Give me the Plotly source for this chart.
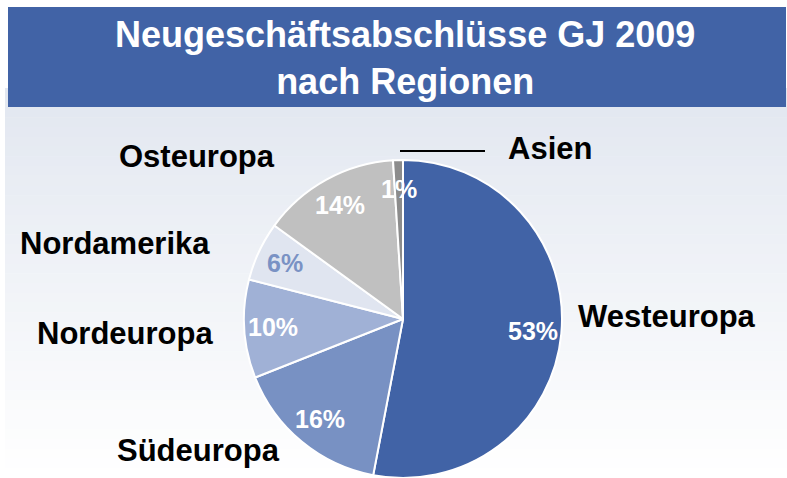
import math
import plotly.graph_objects as go

# ---- data ----
regions = ["Westeuropa", "Südeuropa", "Nordeuropa", "Nordamerika", "Osteuropa", "Asien"]
shares = [53, 16, 10, 6, 14, 1]
slice_colors = ["#4163A6", "#7891C3", "#A0B1D6", "#E0E5F0", "#C0C0C0", "#8C8C8C"]
pct_colors = ["white", "white", "white", "#7A92C4", "white", "white"]
title_lines = ["Neugeschäftsabschlüsse GJ 2009", "nach Regionen"]

W, H = 787, 478
CX, CY, R = 403, 319, 159
FONT = "Liberation Sans, Arial, sans-serif"

fig = go.Figure()

fig.add_trace(go.Pie(
    labels=regions,
    values=shares,
    sort=False,
    direction="clockwise",
    rotation=0,
    textinfo="none",
    hoverinfo="label+percent",
    marker=dict(colors=slice_colors, line=dict(color="white", width=2)),
    domain=dict(x=[(CX - R) / W, (CX + R) / W], y=[(H - CY - R) / H, (H - CY + R) / H]),
    showlegend=False,
))

shapes = []
# background gradient (light blue-gray to white)
top, bottom = 88, 478
n = 40
c0 = (0xE2, 0xE7, 0xF0)
c1 = (0xFF, 0xFF, 0xFF)
for i in range(n):
    t = i / (n - 1)
    col = tuple(int(round(c0[k] + (c1[k] - c0[k]) * t)) for k in range(3))
    y0 = top + (bottom - top) * i / n
    y1 = top + (bottom - top) * (i + 1) / n + 0.5
    shapes.append(dict(type="rect", xref="paper", yref="paper",
                       x0=5 / W, x1=1, y0=1 - y1 / H, y1=1 - y0 / H,
                       fillcolor="rgb(%d,%d,%d)" % col, line=dict(width=0), layer="below"))
# title banner
shapes.append(dict(type="rect", xref="paper", yref="paper",
                   x0=8 / W, x1=786 / W, y0=1 - 107 / H, y1=1 - 7 / H,
                   fillcolor="#4163A6", line=dict(width=0), layer="below"))
# leader line for Asien
shapes.append(dict(type="line", xref="paper", yref="paper",
                   x0=400 / W, x1=485 / W, y0=1 - 151 / H, y1=1 - 151 / H,
                   line=dict(color="black", width=2)))

annotations = []
annotations.append(dict(text="<b>" + "<br>".join(title_lines) + "</b>", xref="paper", yref="paper",
                        x=405 / W, y=1 - 58 / H, xanchor="center", yanchor="middle",
                        showarrow=False, font=dict(family=FONT, size=36, color="white")))

# percentage labels placed along slice mid-angles
cum = 0
total = sum(shares)
for val, col in zip(shares, pct_colors):
    mid = (cum + val / 2) / total * 2 * math.pi
    cum += val
    f = 0.82
    px = CX + R * f * math.sin(mid)
    py = CY - R * f * math.cos(mid)
    annotations.append(dict(text="<b>%d%%</b>" % val, xref="paper", yref="paper",
                            x=px / W, y=1 - py / H, xanchor="center", yanchor="middle",
                            showarrow=False, font=dict(family=FONT, size=25, color=col)))

# region name label positions (pixels)
name_pos = {
    "Westeuropa": (667, 316),
    "Südeuropa": (199, 450),
    "Nordeuropa": (125, 333),
    "Nordamerika": (115, 243),
    "Osteuropa": (197, 156),
    "Asien": (550, 148),
}
for name in regions:
    x, y = name_pos[name]
    annotations.append(dict(text="<b>%s</b>" % name, xref="paper", yref="paper",
                            x=x / W, y=1 - y / H, xanchor="center", yanchor="middle",
                            showarrow=False, font=dict(family=FONT, size=31, color="black")))

fig.update_layout(
    width=W, height=H,
    margin=dict(l=0, r=0, t=0, b=0),
    paper_bgcolor="white",
    plot_bgcolor="white",
    shapes=shapes,
    annotations=annotations,
)

fig.write_html("out.html", config={"displayModeBar": False},
               post_script="document.body.style.margin='0';document.body.style.overflow='hidden';")
